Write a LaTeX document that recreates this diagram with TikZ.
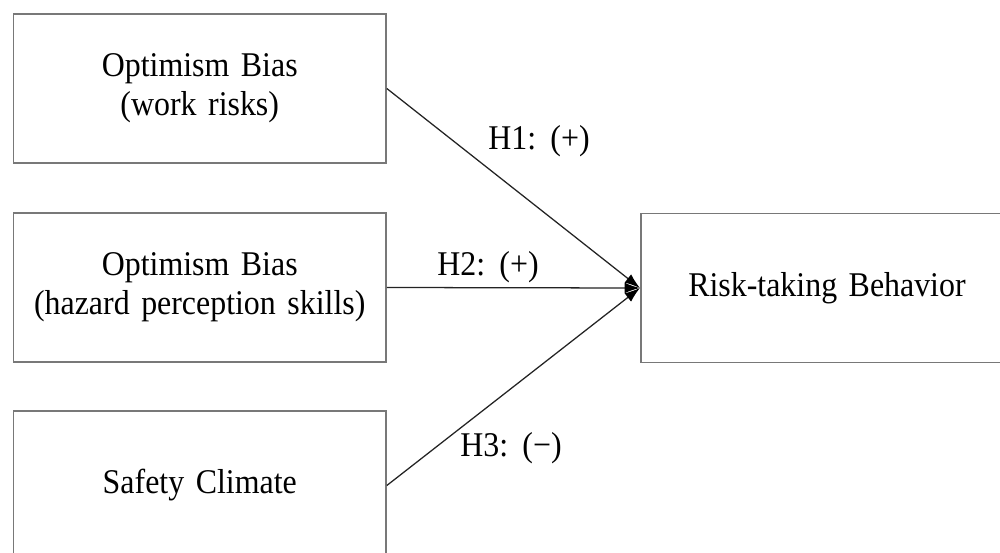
\documentclass[tikz,border=0pt]{standalone}
\usepackage{fontspec}
\setmainfont{Liberation Serif}[FakeStretch=0.92,WordSpace=1.45]
\usetikzlibrary{arrows.meta}
\definecolor{boxgray}{RGB}{120,120,120}
\definecolor{linkgray}{RGB}{35,35,35}
\begin{document}
\begin{tikzpicture}[x=0.75pt,y=-0.75pt,
  box/.style={draw=boxgray,line width=1.2pt,minimum width=279.4pt,minimum height=111.75pt,
    align=center,inner sep=0pt,font=\fontsize{26}{29}\selectfont},
  link/.style={draw=linkgray,line width=0.95pt,-{Latex[length=11.5pt,width=8pt,color=black]}},
  hyp/.style={font=\fontsize{26}{29}\selectfont,inner sep=0pt}]
\useasboundingbox (0,0) rectangle (1000,553);
\clip (0,0) rectangle (1000,553);
\node[box] (ob1) at (199.75,88.5) {Optimism Bias\\(work risks)};
\node[box] (ob2) at (199.75,287.5) {Optimism Bias\\(hazard perception skills)};
\node[box] (sc) at (199.75,485.5) {Safety Climate};
\node[box] (rb) at (827,288) {Risk-taking Behavior};
\coordinate (tip) at (rb.west);
\draw[link] (ob1.east) -- (tip);
\draw[link] (ob2.east) -- (tip);
\draw[link] (sc.east) -- (tip);
\node[hyp] (h1) at (539,141) {H1: (+)};
\node[hyp] (h2) at (488,267) {H2: (+)};
\node[hyp] (h3) at (511,448) {H3: (−)};
\end{tikzpicture}
\end{document}
